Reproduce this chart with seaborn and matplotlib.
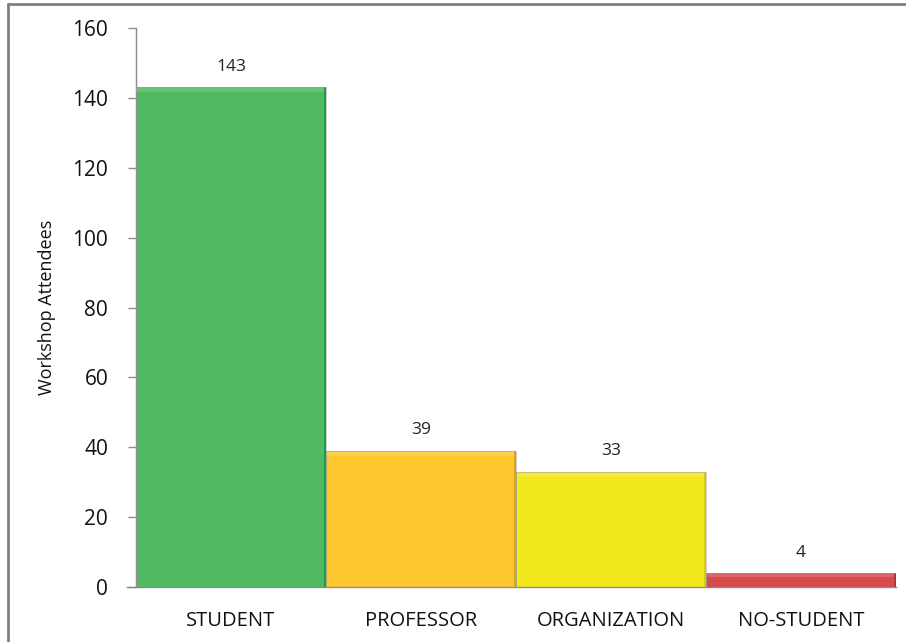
import matplotlib
matplotlib.use("Agg")
import matplotlib.pyplot as plt
import seaborn as sns
import pandas as pd
from matplotlib.patches import Rectangle

categories = ["STUDENT", "PROFESSOR", "ORGANIZATION", "NO-STUDENT"]
attendees = [143, 39, 33, 4]
bar_colors = ["#52B963", "#FDC62F", "#F3E81A", "#D94A4E"]
edge_colors = ["#17A04A", "#D9A21E", "#D6C90E", "#A8363A"]
y_ticks = [0, 20, 40, 60, 80, 100, 120, 140, 160]

sns.set_theme(style="white")
plt.rcParams["font.family"] = ["Open Sans", "DejaVu Sans"]

df = pd.DataFrame({"category": categories, "count": attendees})

fig = plt.figure(figsize=(9.06, 6.42), dpi=100)
ax = fig.add_axes([136 / 906, (642 - 587) / 642, (896 - 136) / 906, (587 - 28) / 642])

sns.barplot(data=df, x="category", y="count", hue="category",
            palette=bar_colors, width=1.0, legend=False, ax=ax,
            saturation=1.0, edgecolor="none")

# bevel-like shading: light band on top, darker band on the right side
for patch, edge in zip(ax.patches, edge_colors):
    x0, y0 = patch.get_x(), patch.get_y()
    w, h = patch.get_width(), patch.get_height()
    band_y = min(1.4, h * 0.3)
    ax.add_patch(Rectangle((x0, y0 + h - band_y), w, band_y,
                           facecolor="white", alpha=0.14, lw=0, zorder=3))
    ax.add_patch(Rectangle((x0 + w - 0.012, y0), 0.012, h,
                           facecolor=edge, lw=0, zorder=3))
    ax.add_patch(Rectangle((x0, y0), w, h, facecolor="none",
                           edgecolor="#9a9a9a", lw=0.6, alpha=0.6, zorder=4))

for container in ax.containers:
    ax.bar_label(container, padding=9, fontsize=12.5, color="#222222")

ax.set_xlim(-0.5, 3.5)
ax.set_ylim(0, 160)
ax.set_yticks(y_ticks)
ax.tick_params(axis="y", which="both", left=True, length=6, width=1,
               color="#8c8c8c", labelsize=15, pad=14, labelcolor="#111111")
ax.tick_params(axis="x", bottom=False, labelsize=14.5, pad=11,
               labelcolor="#111111")
ax.set_xlabel("")
ax.set_ylabel("Workshop Attendees", fontsize=13, labelpad=12, color="#111111")

for side in ["top", "right"]:
    ax.spines[side].set_visible(False)
for side in ["left", "bottom"]:
    ax.spines[side].set_color("#8c8c8c")
    ax.spines[side].set_linewidth(1)
ax.spines["bottom"].set_bounds(-0.5 - 9 / 190, 3.5)
ax.grid(False)

# outer frame of the chart area
fig.add_artist(plt.Line2D([7.5 / 906, 7.5 / 906], [0, 1 - 3.5 / 642],
                          color="#808080", lw=2, transform=fig.transFigure))
fig.add_artist(plt.Line2D([7.5 / 906, 1], [1 - 3.5 / 642, 1 - 3.5 / 642],
                          color="#808080", lw=2, transform=fig.transFigure))

fig.savefig("out.png", dpi=100)
